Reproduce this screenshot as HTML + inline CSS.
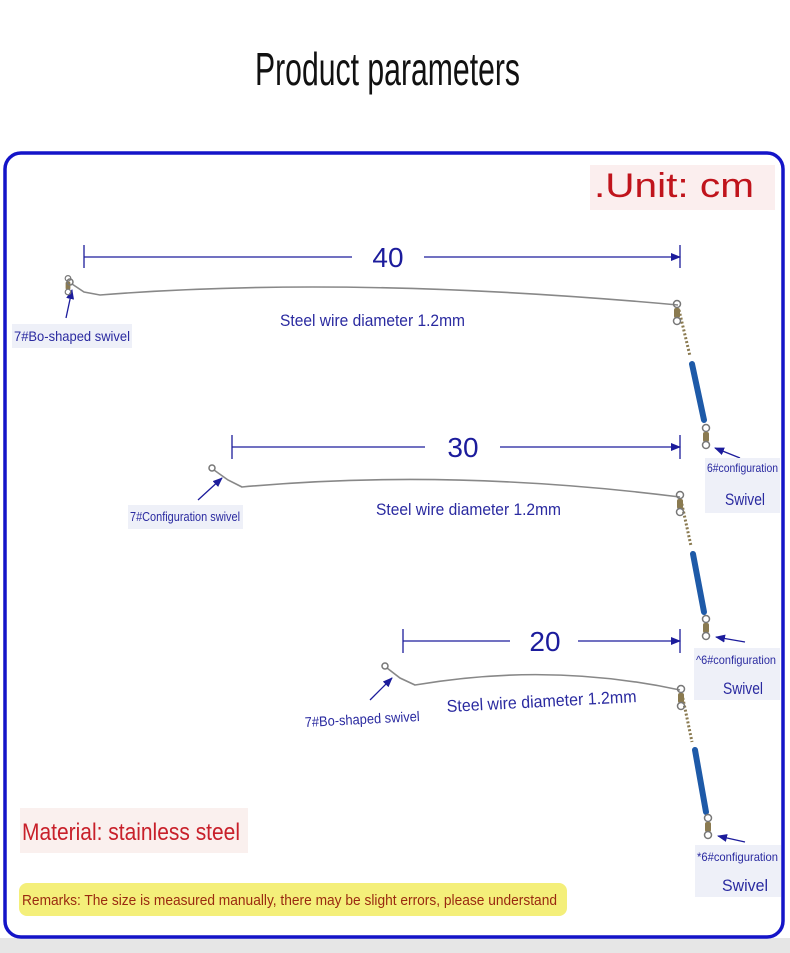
<!DOCTYPE html>
<html><head><meta charset="utf-8"><style>
html,body{margin:0;padding:0;background:#fff;}
svg{display:block;}
text{font-family:"Liberation Sans Narrow","Liberation Sans",sans-serif;}
</style></head><body>
<svg width="790" height="953" viewBox="0 0 790 953" xmlns="http://www.w3.org/2000/svg">
<defs>
<marker id="ar" markerWidth="10" markerHeight="8" refX="9" refY="4" orient="auto" markerUnits="userSpaceOnUse"><path d="M0,0 L10,4 L0,8 Z" fill="#1c1c9c"/></marker>
<g id="swv"><circle r="3.5" fill="none" stroke="#777" stroke-width="1.5"/><rect x="-3" y="4" width="6" height="10" rx="2" fill="#8a7a50"/><circle cy="17" r="3.5" fill="none" stroke="#777" stroke-width="1.5"/></g>
</defs>
<rect x="0" y="938" width="790" height="15" fill="#e6e6e6"/>
<rect x="5" y="153" width="778" height="784" rx="16" fill="#fff" stroke="#1414c8" stroke-width="3.5"/>
<text x="255" y="85" font-size="46" textLength="265" lengthAdjust="spacingAndGlyphs" fill="#111">Product parameters</text>
<rect x="590" y="165" width="185" height="45" fill="#fbeeee"/>
<text x="594" y="197" font-size="34" fill="#c0141c" font-family="Liberation Sans,sans-serif" textLength="160" lengthAdjust="spacingAndGlyphs">.Unit: cm</text>

<g stroke="#1c1c9c" stroke-width="1.3" fill="none">
<line x1="84" y1="245" x2="84" y2="268"/><line x1="680" y1="245" x2="680" y2="268"/>
<line x1="84" y1="257" x2="352" y2="257"/><line x1="424" y1="257" x2="680" y2="257" marker-end="url(#ar)"/>
<line x1="232" y1="435" x2="232" y2="459"/><line x1="680" y1="435" x2="680" y2="459"/>
<line x1="232" y1="447" x2="425" y2="447"/><line x1="500" y1="447" x2="680" y2="447" marker-end="url(#ar)"/>
<line x1="403" y1="629" x2="403" y2="653"/><line x1="680" y1="629" x2="680" y2="653"/>
<line x1="403" y1="641" x2="510" y2="641"/><line x1="578" y1="641" x2="680" y2="641" marker-end="url(#ar)"/>
<line x1="66" y1="318" x2="72" y2="290" marker-end="url(#ar)"/>
<line x1="740" y1="458" x2="715" y2="448" marker-end="url(#ar)"/>
<line x1="198" y1="500" x2="222" y2="478" marker-end="url(#ar)"/>
<line x1="745" y1="642" x2="716" y2="637" marker-end="url(#ar)"/>
<line x1="370" y1="700" x2="392" y2="678" marker-end="url(#ar)"/>
<line x1="745" y1="842" x2="718" y2="836" marker-end="url(#ar)"/>
</g>
<g font-size="28" fill="#1c1c9c" font-family="Liberation Sans,sans-serif" text-anchor="middle">
<text x="388" y="267">40</text><text x="463" y="457">30</text><text x="545" y="651">20</text>
</g>

<g fill="none" stroke="#888" stroke-width="1.6">
<path d="M72,284 L84,292 L100,295 Q350,275 678,305"/>
<path d="M214,470 L228,480 L242,487 Q450,468 680,497"/>
<path d="M387,668 L400,678 L415,685 Q550,662 680,690"/>
</g>
<g stroke="#8a7a50" stroke-width="3" stroke-dasharray="2 2">
<line x1="679" y1="310" x2="690" y2="356"/>
<line x1="681" y1="500" x2="691" y2="546"/>
<line x1="682" y1="694" x2="692" y2="742"/>
</g>
<g stroke="#1e5aa8" stroke-width="6" stroke-linecap="round">
<line x1="692" y1="364" x2="704" y2="420"/>
<line x1="693" y1="554" x2="704" y2="612"/>
<line x1="695" y1="750" x2="706" y2="812"/>
</g>
<use href="#swv" x="677" y="304"/><use href="#swv" x="706" y="428"/>
<use href="#swv" x="680" y="495"/><use href="#swv" x="706" y="619"/>
<use href="#swv" x="681" y="689"/><use href="#swv" x="708" y="818"/>
<use href="#swv" x="68" y="278" transform="scale(0.8) translate(17 70)"/>
<circle cx="70" cy="282" r="3" fill="none" stroke="#777" stroke-width="1.5"/>
<circle cx="212" cy="468" r="3" fill="none" stroke="#777" stroke-width="1.5"/>
<circle cx="385" cy="666" r="3" fill="none" stroke="#777" stroke-width="1.5"/>

<g fill="#2a2aa0">
<text x="280" y="326" font-size="17" textLength="185" lengthAdjust="spacingAndGlyphs">Steel wire diameter 1.2mm</text>
<text x="376" y="515" font-size="17" textLength="185" lengthAdjust="spacingAndGlyphs">Steel wire diameter 1.2mm</text>
<text x="447" y="712" font-size="17" textLength="190" lengthAdjust="spacingAndGlyphs" transform="rotate(-3 447 712)">Steel wire diameter 1.2mm</text>
<rect x="12" y="324" width="120" height="24" fill="#eef0f8"/>
<text x="14" y="341" font-size="14" textLength="116" lengthAdjust="spacingAndGlyphs">7#Bo-shaped swivel</text>
<rect x="128" y="505" width="115" height="24" fill="#eef0f8"/>
<text x="130" y="521" font-size="13" textLength="110" lengthAdjust="spacingAndGlyphs">7#Configuration swivel</text>
<text x="305" y="727" font-size="14" textLength="115" lengthAdjust="spacingAndGlyphs" transform="rotate(-3 305 727)">7#Bo-shaped swivel</text>
<rect x="705" y="458" width="75" height="55" fill="#eef0f8"/>
<text x="707" y="472" font-size="12" textLength="71" lengthAdjust="spacingAndGlyphs">6#configuration</text>
<text x="725" y="505" font-size="17" textLength="40" lengthAdjust="spacingAndGlyphs">Swivel</text>
<rect x="694" y="648" width="86" height="52" fill="#eef0f8"/>
<text x="696" y="664" font-size="12" textLength="80" lengthAdjust="spacingAndGlyphs">^6#configuration</text>
<text x="723" y="694" font-size="17" textLength="40" lengthAdjust="spacingAndGlyphs">Swivel</text>
<rect x="695" y="845" width="86" height="52" fill="#eef0f8"/>
<text x="697" y="861" font-size="12" textLength="81" lengthAdjust="spacingAndGlyphs">*6#configuration</text>
<text x="722" y="891" font-size="17" textLength="46" lengthAdjust="spacingAndGlyphs">Swivel</text>
</g>

<rect x="20" y="808" width="228" height="45" fill="#faf0ee"/>
<text x="22" y="840" font-size="24" fill="#c8202a" textLength="218" lengthAdjust="spacingAndGlyphs">Material: stainless steel</text>
<rect x="19" y="883" width="548" height="33" rx="8" fill="#f4ef7a"/>
<text x="22" y="905" font-size="15" fill="#9a2a10" textLength="535" lengthAdjust="spacingAndGlyphs">Remarks: The size is measured manually, there may be slight errors, please understand</text>
</svg>
</body></html>
